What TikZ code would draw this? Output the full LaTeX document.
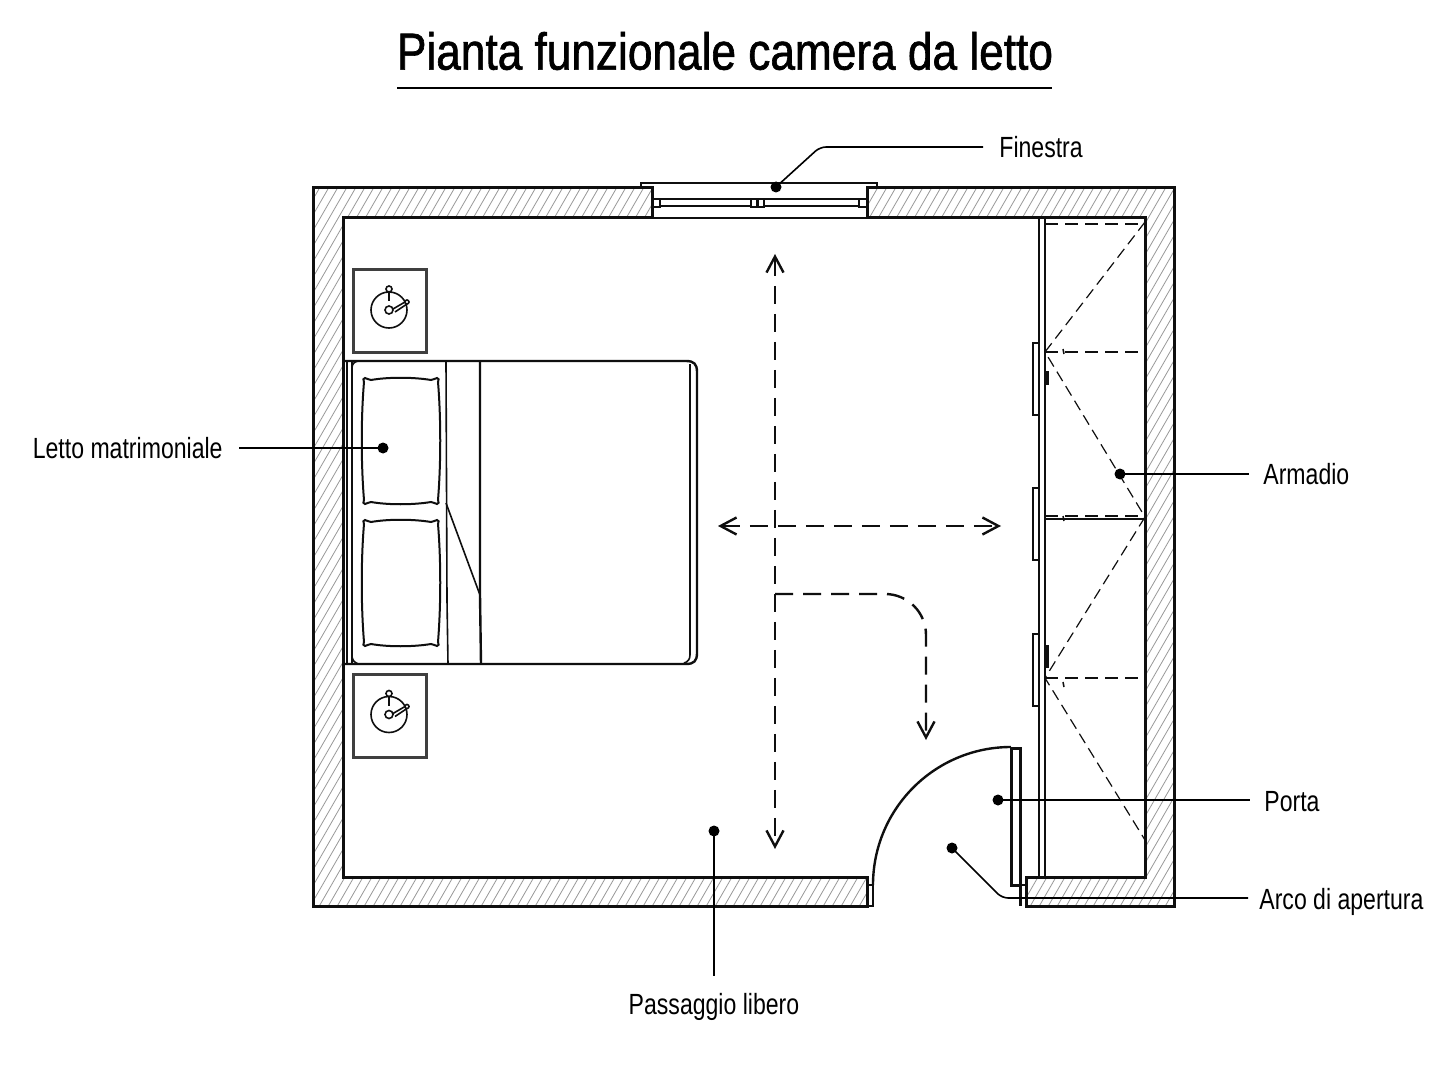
\documentclass[tikz,border=0pt]{standalone}
\usepackage{fontspec}
\usetikzlibrary{arrows.meta}
\setmainfont[FakeStretch=0.79]{Liberation Sans}
\newfontfamily\titlefont[FakeStretch=0.85,FakeBold=1.2]{Liberation Sans}

\newlength{\du}
\setlength{\du}{0.5pt}

\definecolor{hatchcolor}{rgb}{0.600000, 0.600000, 0.600000}
\definecolor{planlinecolor}{rgb}{0.060000, 0.060000, 0.060000}

\tikzset{
  wallline/.style={draw=planlinecolor, line width=3\du, line join=miter},
  hatchline/.style={draw=hatchcolor, line width=0.8\du},
  thinline/.style={draw=planlinecolor, line width=1.6\du},
  midline/.style={draw=planlinecolor, line width=2.4\du},
  dashline/.style={draw=planlinecolor, line width=1.2\du, dash pattern=on 11\du off 6\du},
  shelfline/.style={draw=planlinecolor, line width=1.8\du, dash pattern=on 13\du off 7\du},
  walkline/.style={draw=planlinecolor, line width=2.4\du, dash pattern=on 18\du off 10\du,
    {Straight Barb[length=8pt,width=8.5pt,line width=1.2pt]}-{Straight Barb[length=8pt,width=8.5pt,line width=1.2pt]}},
  walkcurve/.style={draw=planlinecolor, line width=2.4\du, dash pattern=on 18\du off 10\du,
    -{Straight Barb[length=8pt,width=8.5pt,line width=1.2pt]}},
  leader/.style={draw=black, line width=1.6\du},
  leaderdot/.style={circle, fill=black, inner sep=0pt, minimum size=11\du},
  leaderlabel/.style={font=\fontsize{14.6pt}{18pt}\selectfont, inner sep=0pt, text height=13pt, text depth=2pt},
}

% pillow, top left corner given
\newcommand{\pillow}[2]{
\begin{scope}[shift={(#1\du,#2\du)},x=\du,y=\du]
\draw[midline, line width=2\du] (2,0) .. controls (4,0) and (5,2) .. (8,2) .. controls (25,-1) and (50,-1) .. (68,2)
  .. controls (71,2) and (72,0) .. (74,0) .. controls (76,0) and (76,2) .. (75,4)
  .. controls (78,40) and (78,85) .. (75,122) .. controls (76,124) and (76,126) .. (74,126)
  .. controls (72,126) and (71,124) .. (68,124) .. controls (50,127) and (25,127) .. (8,124)
  .. controls (5,124) and (4,126) .. (2,126) .. controls (0,126) and (0,124) .. (1,122)
  .. controls (-2,85) and (-2,40) .. (1,4) .. controls (0,2) and (0,0) .. (2,0) -- cycle;
\end{scope}
}

% night table with lamp, top left corner and height given
\newcommand{\nighttable}[3]{
\begin{scope}[shift={(#1\du,#2\du)},x=\du,y=\du]
\draw[draw=planlinecolor!80, line width=3\du] (1,1) rectangle (74,#3-1);
\draw[thinline] (37,#3/2+-1) circle (18);
\draw[thinline, fill=white] (37,#3/2+-1) circle (4);
\draw[thinline, fill=white] (37,#3/2+-22) circle (3);
\draw[thinline] (37,#3/2+-19) -- (37,#3/2+-10);
\draw[thinline] (41,#3/2+-2) -- (53,#3/2+-9);
\draw[thinline] (43,#3/2+1) -- (55,#3/2+-7);
\draw[thinline, fill=white] (55,#3/2+-9) circle (2);
\end{scope}
}

\begin{document}
\begin{tikzpicture}
\pgftransformxscale{1.000000}
\pgftransformyscale{-1.000000}
\useasboundingbox[fill=white] (0\du,0\du) rectangle (1448\du,1086\du);

% title
\node[font=\titlefont\fontsize{26pt}{30pt}\selectfont, inner sep=0pt] (title) at (725\du,51\du){Pianta funzionale camera da letto};
\draw[line width=1.8\du] (397\du,88\du)--(1052\du,88\du);

% wall hatching
\begin{scope}
\clip (652\du,188\du)--(313\du,188\du)--(313\du,906\du)--(867\du,906\du)--(867\du,877\du)--(343\du,877\du)--(343\du,218\du)--(652\du,218\du)--cycle
      (867\du,188\du)--(1174\du,188\du)--(1174\du,906\du)--(1026\du,906\du)--(1026\du,877\du)--(1145\du,877\du)--(1145\du,218\du)--(867\du,218\du)--cycle;
\foreach \x in {-160,-151,...,1180}
  \draw[hatchline] (\x\du,910\du)--++(420\du,-728\du);
\end{scope}

% walls
\draw[wallline] (652\du,188\du)--(313\du,188\du)--(313\du,906\du)--(867\du,906\du)--(867\du,877\du)--(343\du,877\du)--(343\du,218\du)--(652\du,218\du)--cycle;
\draw[wallline] (867\du,188\du)--(1174\du,188\du)--(1174\du,906\du)--(1026\du,906\du)--(1026\du,877\du)--(1145\du,877\du)--(1145\du,218\du)--(867\du,218\du)--cycle;

% window
\draw[midline] (641\du,188\du)--(641\du,183\du)--(877\du,183\du)--(877\du,188\du);
\draw[midline] (652\du,218\du)--(867\du,218\du);
\draw[thinline] (660\du,199\du)--(751\du,199\du) (660\du,206\du)--(751\du,206\du);
\draw[thinline] (764\du,199\du)--(859\du,199\du) (764\du,206\du)--(859\du,206\du);
\draw[thinline] (652\du,199\du) rectangle (660\du,207\du);
\draw[thinline] (751\du,199\du) rectangle (757\du,207\du);
\draw[thinline] (758\du,199\du) rectangle (764\du,207\du);
\draw[thinline] (859\du,199\du) rectangle (867\du,207\du);

% night tables
\nighttable{352}{269}{84}
\nighttable{352}{673}{85}

% bed
\draw[midline] (343\du,361\du)--(686\du,361\du) .. controls (694\du,361\du) and (697\du,364\du) .. (697\du,372\du)
  --(697\du,653\du) .. controls (697\du,661\du) and (694\du,664\du) .. (686\du,664\du)--(343\du,664\du);
\draw[thinline] (690\du,364\du)--(690\du,655\du) .. controls (690\du,659\du) and (688\du,662\du) .. (684\du,663\du);
\draw[thinline] (347\du,361\du)--(347\du,664\du);
\draw[midline] (352\du,361\du)--(352\du,664\du);
\draw[thinline] (352\du,368\du) .. controls (352\du,364\du) and (354\du,362\du) .. (358\du,361\du);
\draw[thinline] (352\du,657\du) .. controls (353\du,661\du) and (355\du,663\du) .. (358\du,664\du);
\draw[thinline] (446\du,361\du)--(447\du,600\du)--(448\du,664\du);
\draw[midline] (480\du,361\du)--(480\du,595\du)--(481\du,664\du);
\draw[thinline] (446\du,503\du)--(480\du,595\du);
\pillow{363}{378}
\pillow{363}{520}

% wardrobe
\draw[midline] (1039\du,218\du)--(1039\du,877\du);
\draw[midline] (1045\du,218\du)--(1045\du,877\du);
\draw[shelfline] (1045\du,224\du)--(1145\du,224\du);
\draw[shelfline] (1045\du,352\du)--(1145\du,352\du);
\draw[shelfline] (1045\du,516\du)--(1145\du,516\du);
\draw[thinline] (1045\du,519\du)--(1145\du,519\du);
\draw[shelfline] (1045\du,678\du)--(1145\du,678\du);
\draw[dashline] (1145\du,222\du)--(1045\du,352\du)--(1145\du,517\du)--(1045\du,678\du)--(1145\du,840\du);
\foreach \y in {343,488,634}
  \draw[midline] (1039\du,\y\du)--(1033\du,\y\du)--(1033\du,\y\du+72\du)--(1039\du,\y\du+72\du);
\foreach \y/\h in {371/14,645/23}
  \draw[wallline] (1047\du,\y\du)--(1047\du,\y\du+\h\du);
\foreach \y in {349,516,682}
  \draw[midline, line width=1.5\du] (1063\du,\y\du)--(1064\du,\y\du+5\du);

% door
\draw[wallline] (1020\du,885\du)--(1011\du,885\du)--(1011\du,748\du)--(1020\du,748\du)--(1020\du,906\du);
\draw[midline] (1011\du,885\du)--(1026\du,885\du);
\draw[midline] (873\du,885\du) arc[start angle=180,end angle=270,radius=138\du];
\draw[midline] (867\du,885\du)--(873\du,885\du)--(873\du,906\du)--(867\du,906\du);

% free passage arrows
\coordinate (walkup) at (775\du,254\du);
\coordinate (walkdown) at (775\du,849\du);
\coordinate (walkleft) at (718\du,526\du);
\coordinate (walkright) at (1001\du,526\du);
\coordinate (walkstart) at (775\du,594\du);
\coordinate (walkbend) at (926\du,594\du);
\coordinate (walkend) at (926\du,740\du);
\draw[walkline] (walkup)--(walkdown);
\draw[walkline] (walkleft)--(walkright);
\draw[walkcurve, rounded corners=41\du] (walkstart)--(walkbend)--(walkend);

% labels
\node[leaderlabel, anchor=west] (labfinestra) at (999\du,147\du){Finestra};
\node[leaderlabel, anchor=east] (labletto) at (223\du,447\du){Letto matrimoniale};
\node[leaderlabel, anchor=west] (labarmadio) at (1263\du,473\du){Armadio};
\node[leaderlabel, anchor=west] (labporta) at (1264\du,800\du){Porta};
\node[leaderlabel, anchor=west] (labarco) at (1259\du,898\du){Arco di apertura};
\node[leaderlabel, anchor=north] (labpassaggio) at (714\du,988\du){Passaggio libero};

% leaders
\node[leaderdot] (dotfinestra) at (776\du,187\du){};
\node[leaderdot] (dotletto) at (383\du,448\du){};
\node[leaderdot] (dotarmadio) at (1120\du,474\du){};
\node[leaderdot] (dotporta) at (998\du,800\du){};
\node[leaderdot] (dotarco) at (952\du,848\du){};
\node[leaderdot] (dotpassaggio) at (714\du,831\du){};
\coordinate (endfinestra) at (983\du,147\du);
\coordinate (endletto) at (239\du,448\du);
\coordinate (endarmadio) at (1249\du,474\du);
\coordinate (endporta) at (1250\du,800\du);
\coordinate (endarco) at (1248\du,898\du);
\coordinate (endpassaggio) at (714\du,976\du);
\coordinate (bendfinestra) at (820\du,147\du);
\coordinate (bendarco) at (1002\du,898\du);
\draw[leader, rounded corners=6\du] (dotfinestra.center)--(bendfinestra)--(endfinestra);
\draw[leader] (endletto)--(dotletto.center);
\draw[leader] (dotarmadio.center)--(endarmadio);
\draw[leader] (dotporta.center)--(endporta);
\draw[leader, rounded corners=6\du] (dotarco.center)--(bendarco)--(endarco);
\draw[leader] (dotpassaggio.center)--(endpassaggio);
\end{tikzpicture}
\end{document}
